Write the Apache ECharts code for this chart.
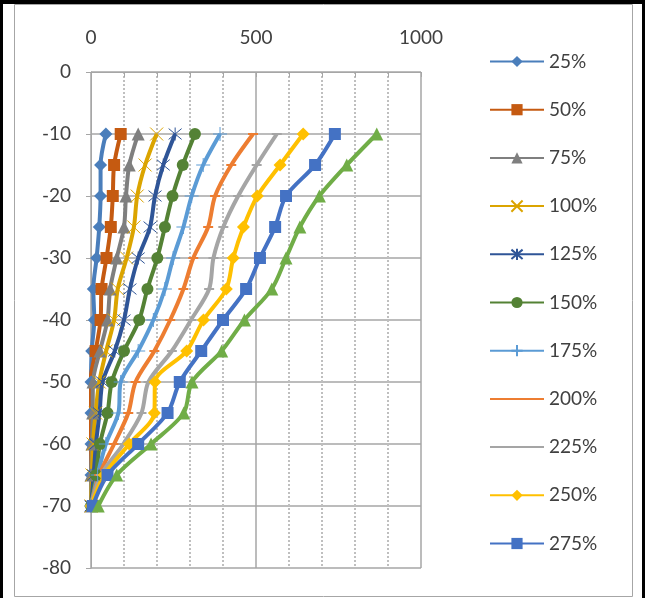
<!DOCTYPE html>
<html>
<head>
<meta charset="utf-8">
<script src="https://cdn.jsdelivr.net/npm/echarts@6/dist/echarts.min.js"></script>
<style>
  html, body { margin: 0; padding: 0; background: #fff; }
  #chart { width: 645px; height: 598px; }
</style>
</head>
<body>
<div id="chart"></div>
<script>
// Depths (m) at which each profile is sampled
const depths = [-10, -15, -20, -25, -30, -35, -40, -45, -50, -55, -60, -65, -70];

// Profile values per load level
const s25  = [45, 29, 29, 25, 17, 7, 10, 2, 0, 0, 0, 0, 0];
const s50  = [90, 70, 66, 60, 47, 32, 29, 14, -2, -2, -5, -8, -8];
const s75  = [143, 116, 106, 100, 78, 58, 50, 27, 6, 5, 3, 0, 0];
const s100 = [199, 164, 140, 130, 108, 81, 70, 46, 25, 14, 6, 3, 0];
const s125 = [255, 219, 194, 179, 143, 118, 100, 72, 35, 26, 15, 8, 0];
const s150 = [315, 278, 247, 224, 201, 171, 146, 100, 63, 50, 27, 15, 0];
const s175 = [391, 340, 305, 280, 249, 224, 189, 143, 90, 83, 45, 20, 0];
const s200 = [491, 425, 376, 355, 310, 280, 240, 192, 135, 113, 70, 25, 0];
const s225 = [563, 502, 446, 401, 371, 358, 303, 245, 174, 153, 98, 30, 0];
const s250 = [643, 573, 504, 462, 431, 410, 341, 290, 194, 192, 116, 40, 0];
const s275 = [739, 679, 591, 558, 512, 470, 400, 334, 269, 232, 143, 50, 5];
const s300 = [866, 775, 692, 633, 591, 548, 465, 396, 306, 281, 182, 78, 22];

const names  = ['25%', '50%', '75%', '100%', '125%', '150%', '175%', '200%', '225%', '250%', '275%', '300%'];
const values = [s25, s50, s75, s100, s125, s150, s175, s200, s225, s250, s275, s300];
const colors = ['#4A7EBB', '#C55A11', '#7F7F7F', '#DBA400', '#2F5597', '#548235',
                '#5B9BD5', '#ED7D31', '#A5A5A5', '#FFC000', '#4472C4', '#70AD47'];

// Marker shapes
const X_PATH    = 'path://M0,0L10,10M10,0L0,10';
const STAR_PATH = 'path://M0,0L10,10M10,0L0,10M5,-1L5,11';
const PLUS_PATH = 'path://M0,5L10,5M5,0L5,10';

const markers = [
  { symbol: 'diamond',  size: 13 },
  { symbol: 'rect',     size: 12 },
  { symbol: 'triangle', size: 13 },
  { symbol: X_PATH,     size: 13, stroke: true },
  { symbol: STAR_PATH,  size: 13, stroke: true },
  { symbol: 'circle',   size: 12 },
  { symbol: PLUS_PATH,  size: 14, stroke: true },
  { symbol: 'rect',     size: [10, 2], dash: true },
  { symbol: 'rect',     size: [10, 2], dash: true },
  { symbol: 'diamond',  size: 13 },
  { symbol: 'rect',     size: 12 },
  { symbol: 'triangle', size: 13 }
];

const FONT = 'Lato';
const TXT = '#404040';

const series = names.map((name, i) => {
  const m = markers[i];
  const itemStyle = m.stroke
    ? { color: 'rgba(0,0,0,0)', borderColor: colors[i], borderWidth: 1 }
    : { color: colors[i] };
  return {
    name: name,
    type: 'line',
    smooth: 0.3,
    data: values[i].map((v, k) => [v, depths[k]]),
    symbol: m.symbol,
    symbolSize: m.size,
    showAllSymbol: true,
    lineStyle: { color: colors[i], width: 4 },
    itemStyle: itemStyle,
    emphasis: { disabled: true },
    animation: false
  };
});

// Legend entries (the dash-marker series show as a plain line)
const legendData = names.slice(0, 11).map((name, i) =>
  markers[i].dash ? { name: name, itemStyle: { opacity: 0 } } : { name: name });

const chart = echarts.init(document.getElementById('chart'), null, { renderer: 'canvas' });
chart.setOption({
  animation: false,
  backgroundColor: '#ffffff',
  grid: { left: 91, right: 224, top: 72, bottom: 30, containLabel: false },
  xAxis: {
    type: 'value',
    position: 'top',
    min: 0,
    max: 1000,
    interval: 500,
    axisLine: { show: true, lineStyle: { color: '#A6A6A6', width: 1 } },
    axisTick: { show: true, inside: true, length: 5, lineStyle: { color: '#A6A6A6' } },
    minorTick: { show: true, splitNumber: 5, length: 5, lineStyle: { color: '#A6A6A6' } },
    axisLabel: { color: TXT, fontFamily: FONT, fontSize: 19, margin: 25, formatter: v => String(v) },
    splitLine: { show: true, lineStyle: { color: '#A6A6A6', width: 1.5 } },
    minorSplitLine: { show: true, lineStyle: { color: '#BFBFBF', width: 2, type: [2, 2] } }
  },
  yAxis: {
    type: 'value',
    min: -80,
    max: 0,
    interval: 10,
    axisLine: { show: true, lineStyle: { color: '#A6A6A6', width: 1 } },
    axisTick: { show: true, length: 5, lineStyle: { color: '#A6A6A6' } },
    axisLabel: { color: TXT, fontFamily: FONT, fontSize: 19, margin: 20 },
    splitLine: { show: true, lineStyle: { color: '#A6A6A6', width: 1.5 } }
  },
  legend: {
    data: legendData,
    orient: 'vertical',
    left: 489,
    top: 52,
    padding: 0,
    itemWidth: 54,
    itemHeight: 14,
    itemGap: 29.2,
    textStyle: { color: TXT, fontFamily: FONT, fontSize: 19 },
    selectedMode: false
  },
  graphic: [
    { type: 'rect', silent: true, z: 100,
      shape: { x: 14.5, y: 4.5, width: 618, height: 592 },
      style: { fill: 'none', stroke: '#A6A6A6', lineWidth: 1 } },
    { type: 'rect', silent: true, z: 100,
      shape: { x: 0, y: 0, width: 645, height: 4 }, style: { fill: '#000' } },
    { type: 'rect', silent: true, z: 100,
      shape: { x: 0, y: 0, width: 3, height: 598 }, style: { fill: '#000' } },
    { type: 'rect', silent: true, z: 100,
      shape: { x: 642, y: 0, width: 3, height: 598 }, style: { fill: '#000' } }
  ],
  series: series
});
</script>
</body>
</html>
